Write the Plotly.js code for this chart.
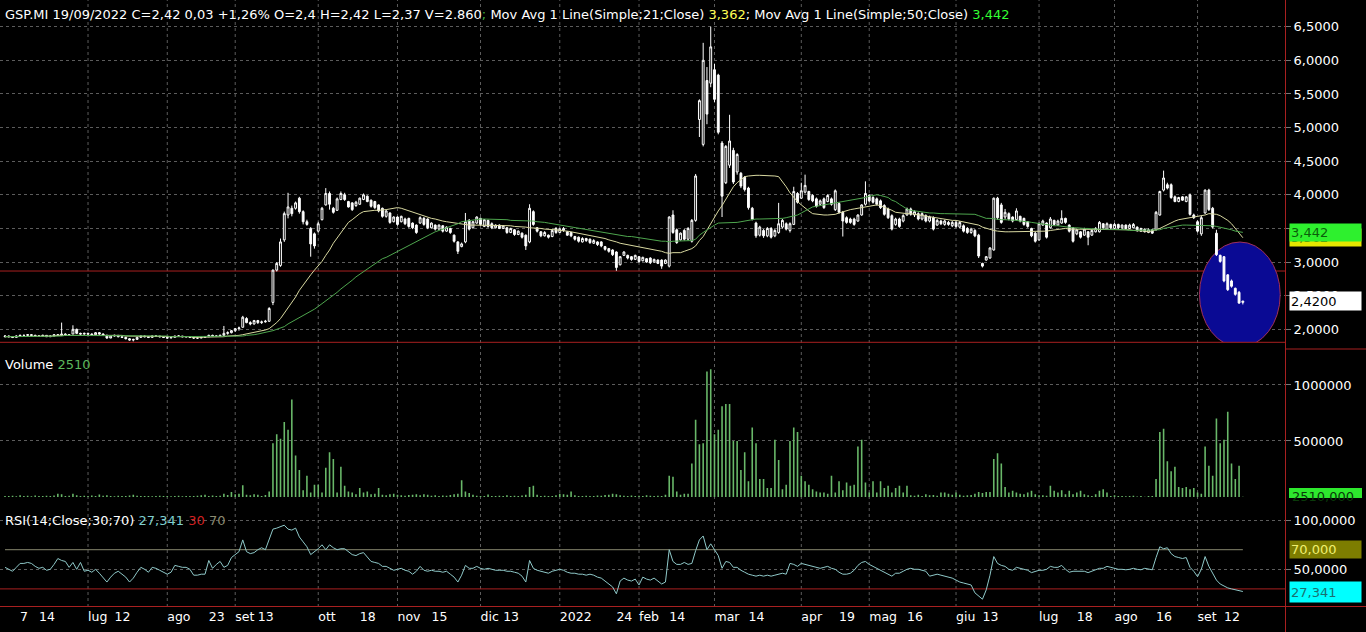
<!DOCTYPE html>
<html><head><meta charset="utf-8">
<script src="https://cdn.plot.ly/plotly-3.0.1.min.js"></script>
<style>html,body{margin:0;padding:0;background:#000;overflow:hidden}#chart{width:1366px;height:632px}</style>
</head><body><div id="chart"></div>
<script>
// ---- DATA (daily bars, GSP.MI, Jun 2021 - 19 Sep 2022) ----
const openPx = [
1.89,1.90,1.89,1.88,1.90,1.91,1.91,1.92,1.91,1.90,
1.90,1.91,1.89,1.90,1.92,1.91,1.93,1.92,1.93,2.00,
1.94,1.93,1.94,1.93,1.92,1.95,1.93,1.91,1.87,1.90,
1.91,1.89,1.88,1.86,1.84,1.85,1.88,1.90,1.89,1.88,
1.90,1.90,1.89,1.88,1.87,1.88,1.90,1.90,1.89,1.89,
1.88,1.87,1.87,1.88,1.89,1.91,1.90,1.90,1.91,1.94,
1.95,1.98,2.01,2.03,2.16,2.10,2.08,2.13,2.10,2.11,
2.12,2.40,2.88,2.95,3.33,3.70,3.80,3.80,3.95,3.75,
3.60,3.50,3.42,3.46,3.63,3.85,4.02,3.80,3.77,3.93,
4.00,3.90,3.88,3.84,3.86,3.93,3.98,3.92,3.90,3.85,
3.80,3.68,3.73,3.60,3.67,3.60,3.64,3.65,3.58,3.55,
3.58,3.65,3.64,3.51,3.55,3.49,3.54,3.46,3.50,3.40,
3.30,3.23,3.30,3.62,3.51,3.58,3.65,3.53,3.62,3.57,
3.51,3.55,3.50,3.51,3.44,3.48,3.41,3.43,3.40,3.30,
3.75,3.51,3.45,3.39,3.40,3.38,3.50,3.44,3.47,3.45,
3.44,3.38,3.37,3.30,3.35,3.34,3.28,3.30,3.30,3.23,
3.20,3.18,3.15,2.96,3.10,3.10,3.08,3.04,3.08,3.02,
3.05,3.06,3.00,3.03,3.03,2.98,2.94,3.70,3.48,3.33,
3.47,3.34,3.31,3.62,5.12,4.75,5.70,5.66,5.86,5.78,
4.77,4.18,4.44,4.66,4.34,4.32,4.26,4.10,3.80,3.58,
3.40,3.47,3.39,3.50,3.39,3.44,3.52,3.57,3.47,3.56,
4.02,3.95,4.04,4.05,3.99,3.94,3.86,3.94,3.90,3.94,
3.78,3.87,3.74,3.66,3.64,3.64,3.61,3.70,3.86,3.99,
3.96,3.94,3.91,3.84,3.79,3.69,3.56,3.64,3.61,3.70,
3.79,3.70,3.72,3.64,3.69,3.61,3.66,3.55,3.61,3.56,
3.59,3.54,3.59,3.52,3.54,3.50,3.44,3.47,3.40,2.98,
3.03,3.06,3.18,3.95,3.85,3.67,3.72,3.67,3.63,3.68,
3.65,3.60,3.50,3.43,3.33,3.55,3.58,3.51,3.62,3.55,
3.58,3.65,3.55,3.51,3.42,3.45,3.40,3.45,3.40,3.45,
3.45,3.57,3.49,3.56,3.50,3.56,3.51,3.55,3.50,3.51,
3.52,3.50,3.49,3.44,3.48,3.48,3.70,4.07,4.15,4.15,
3.97,3.90,3.97,3.90,4.00,3.70,3.60,3.42,3.73,4.07,
3.80,3.43,3.10,3.08,2.81,2.72,2.61,2.55,2.40];
const highPx = [
1.91,1.91,1.90,1.91,1.92,1.92,1.93,1.93,1.92,1.91,
1.92,1.91,1.91,1.92,1.93,2.10,1.94,1.93,2.06,2.01,
1.95,1.95,1.95,1.94,1.96,1.96,1.94,1.92,1.91,1.92,
1.91,1.90,1.89,1.87,1.86,1.89,1.91,1.91,1.90,1.91,
1.91,1.90,1.89,1.89,1.89,1.90,1.91,1.90,1.90,1.89,
1.88,1.88,1.89,1.90,1.92,1.92,1.91,1.92,2.05,1.97,
1.99,2.02,2.04,2.20,2.18,2.12,2.14,2.14,2.13,2.14,
2.33,2.89,3.00,3.35,3.75,4.03,3.84,3.90,3.97,3.77,
3.63,3.52,3.44,3.60,3.82,4.10,4.05,3.82,3.96,4.05,
4.03,3.91,3.89,3.91,3.96,4.02,3.99,3.93,3.91,3.86,
3.81,3.78,3.74,3.68,3.68,3.69,3.66,3.66,3.59,3.56,
3.68,3.67,3.65,3.59,3.56,3.56,3.55,3.53,3.51,3.41,
3.31,3.29,3.73,3.64,3.61,3.68,3.66,3.64,3.63,3.59,
3.56,3.56,3.55,3.52,3.51,3.49,3.47,3.44,3.41,3.86,
3.77,3.52,3.46,3.46,3.41,3.49,3.52,3.51,3.52,3.46,
3.45,3.39,3.38,3.37,3.36,3.35,3.34,3.31,3.31,3.24,
3.21,3.19,3.16,3.09,3.16,3.11,3.09,3.11,3.09,3.08,
3.06,3.07,3.05,3.04,3.04,3.04,3.68,3.77,3.50,3.44,
3.49,3.52,3.64,4.31,5.42,6.26,5.90,6.50,5.95,5.80,
4.80,4.74,5.19,4.70,4.62,4.34,4.28,4.12,3.82,3.60,
3.54,3.49,3.52,3.52,3.49,3.88,3.64,3.59,3.59,4.12,
4.04,4.18,4.30,4.06,4.01,3.96,3.93,3.96,4.01,3.96,
4.08,3.89,3.76,3.68,3.66,3.66,3.71,3.86,4.20,4.01,
3.98,3.96,3.93,3.86,3.81,3.71,3.66,3.66,3.71,3.81,
3.81,3.77,3.74,3.74,3.71,3.69,3.68,3.64,3.63,3.63,
3.61,3.61,3.61,3.61,3.56,3.52,3.51,3.49,3.42,2.99,
3.09,3.22,3.96,3.97,3.88,3.79,3.74,3.68,3.80,3.69,
3.66,3.61,3.51,3.45,3.59,3.63,3.59,3.67,3.63,3.63,
3.77,3.66,3.56,3.52,3.49,3.46,3.51,3.46,3.49,3.52,
3.61,3.58,3.59,3.57,3.58,3.57,3.56,3.56,3.57,3.58,
3.53,3.51,3.50,3.50,3.49,3.76,4.06,4.36,4.18,4.17,
3.99,3.97,3.98,3.98,4.02,3.72,3.62,3.69,4.08,4.09,
3.82,3.48,3.11,3.09,2.82,2.74,2.62,2.57,2.42];
const lowPx = [
1.88,1.88,1.87,1.88,1.89,1.90,1.90,1.90,1.89,1.89,
1.89,1.89,1.89,1.90,1.90,1.90,1.91,1.91,1.93,1.93,
1.92,1.92,1.92,1.91,1.92,1.92,1.90,1.86,1.87,1.89,
1.88,1.87,1.85,1.83,1.82,1.85,1.88,1.88,1.87,1.88,
1.89,1.88,1.87,1.86,1.87,1.88,1.89,1.88,1.88,1.87,
1.86,1.86,1.87,1.88,1.89,1.89,1.89,1.90,1.90,1.92,
1.94,1.96,1.98,2.03,2.09,2.06,2.07,2.08,2.08,2.10,
2.11,2.36,2.86,2.93,3.30,3.65,3.68,3.78,3.72,3.56,
3.54,3.08,3.20,3.44,3.62,3.84,3.78,3.72,3.76,3.92,
3.91,3.81,3.76,3.82,3.85,3.92,3.89,3.81,3.79,3.74,
3.66,3.66,3.57,3.59,3.54,3.59,3.55,3.51,3.49,3.42,
3.57,3.54,3.49,3.50,3.47,3.48,3.44,3.45,3.42,3.29,
3.12,3.22,3.28,3.47,3.50,3.57,3.54,3.52,3.51,3.49,
3.50,3.49,3.49,3.42,3.43,3.39,3.40,3.35,3.18,3.28,
3.54,3.44,3.37,3.38,3.35,3.37,3.42,3.43,3.45,3.39,
3.37,3.32,3.29,3.29,3.30,3.27,3.27,3.24,3.22,3.17,
3.14,3.09,2.87,2.95,3.09,3.04,3.02,3.03,2.99,3.01,
2.99,2.97,2.99,2.97,2.90,2.97,2.92,3.42,3.27,3.32,
3.32,3.32,3.29,3.60,4.86,4.72,5.05,5.60,5.38,4.90,
3.67,4.16,4.40,4.16,4.30,4.10,4.05,3.78,3.62,3.36,
3.38,3.36,3.37,3.35,3.37,3.42,3.50,3.47,3.44,3.55,
3.87,3.94,4.02,3.91,3.89,3.81,3.84,3.79,3.89,3.84,
3.76,3.72,3.38,3.57,3.57,3.54,3.60,3.69,3.84,3.89,
3.87,3.84,3.79,3.69,3.64,3.47,3.54,3.51,3.59,3.69,
3.69,3.67,3.62,3.62,3.59,3.59,3.47,3.54,3.55,3.54,
3.54,3.52,3.51,3.50,3.44,3.42,3.42,3.37,3.06,2.92,
3.02,3.05,3.17,3.63,3.57,3.63,3.62,3.59,3.62,3.59,
3.54,3.51,3.37,3.29,3.32,3.54,3.35,3.50,3.54,3.54,
3.57,3.57,3.44,3.29,3.40,3.35,3.39,3.25,3.39,3.44,
3.44,3.49,3.48,3.49,3.49,3.49,3.49,3.48,3.49,3.50,
3.45,3.45,3.44,3.43,3.42,3.47,3.69,4.05,4.08,3.94,
3.89,3.89,3.91,3.89,3.69,3.64,3.44,3.39,3.72,3.76,
3.50,3.09,2.99,2.70,2.57,2.62,2.50,2.38,2.37];
const closePx = [
1.90,1.89,1.88,1.90,1.91,1.91,1.92,1.91,1.90,1.90,
1.91,1.89,1.90,1.92,1.91,1.93,1.92,1.92,2.00,1.94,
1.93,1.94,1.93,1.92,1.95,1.93,1.91,1.87,1.90,1.91,
1.89,1.88,1.86,1.84,1.85,1.88,1.90,1.89,1.88,1.90,
1.90,1.89,1.88,1.87,1.88,1.90,1.90,1.89,1.89,1.88,
1.87,1.87,1.88,1.89,1.91,1.90,1.90,1.91,1.94,1.95,
1.98,2.01,2.02,2.18,2.10,2.08,2.13,2.10,2.11,2.12,
2.31,2.88,2.98,3.30,3.72,3.82,3.72,3.88,3.75,3.60,
3.56,3.27,3.24,3.57,3.80,4.02,3.86,3.74,3.94,4.02,
3.93,3.82,3.78,3.89,3.95,4.00,3.90,3.83,3.81,3.76,
3.68,3.76,3.59,3.67,3.56,3.68,3.57,3.53,3.51,3.44,
3.66,3.56,3.51,3.58,3.49,3.55,3.46,3.52,3.44,3.31,
3.16,3.27,3.60,3.49,3.60,3.67,3.56,3.63,3.53,3.51,
3.55,3.50,3.54,3.44,3.50,3.41,3.46,3.37,3.24,3.80,
3.56,3.46,3.39,3.44,3.37,3.47,3.44,3.49,3.50,3.40,
3.39,3.34,3.31,3.35,3.32,3.29,3.32,3.26,3.24,3.19,
3.16,3.11,2.92,3.08,3.15,3.06,3.04,3.10,3.01,3.07,
3.00,2.99,3.04,2.98,2.94,3.03,3.67,3.44,3.29,3.43,
3.34,3.50,3.62,4.28,5.40,6.00,5.20,6.20,5.42,4.93,
3.98,4.72,4.80,4.19,4.60,4.13,4.08,3.81,3.64,3.39,
3.52,3.39,3.50,3.37,3.47,3.57,3.62,3.49,3.57,4.05,
3.89,4.06,4.14,3.93,3.91,3.83,3.91,3.81,3.99,3.86,
4.06,3.74,3.61,3.59,3.59,3.56,3.70,3.85,4.02,3.91,
3.89,3.86,3.81,3.71,3.66,3.49,3.64,3.53,3.69,3.79,
3.71,3.75,3.64,3.72,3.61,3.67,3.49,3.62,3.57,3.61,
3.56,3.59,3.53,3.59,3.46,3.44,3.49,3.39,3.09,2.94,
3.08,3.21,3.95,3.66,3.59,3.74,3.64,3.61,3.76,3.61,
3.56,3.53,3.39,3.31,3.57,3.61,3.37,3.64,3.56,3.61,
3.65,3.59,3.46,3.31,3.48,3.37,3.49,3.37,3.47,3.50,
3.59,3.51,3.57,3.51,3.56,3.51,3.55,3.50,3.55,3.56,
3.47,3.46,3.45,3.48,3.43,3.74,4.05,4.25,4.10,3.96,
3.90,3.96,3.92,3.97,3.71,3.66,3.46,3.66,4.07,3.78,
3.52,3.11,3.01,2.72,2.59,2.64,2.52,2.39,2.42];
// Mov Avg (Simple;21;Close) as drawn
const ma21 = [
1.89,1.89,1.89,1.89,1.90,1.90,1.90,1.90,1.90,1.90,
1.90,1.90,1.90,1.90,1.91,1.91,1.91,1.91,1.92,1.92,
1.92,1.92,1.92,1.92,1.92,1.92,1.92,1.92,1.91,1.91,
1.91,1.91,1.90,1.90,1.90,1.90,1.90,1.89,1.89,1.89,
1.89,1.89,1.89,1.89,1.89,1.89,1.89,1.89,1.89,1.89,
1.88,1.88,1.88,1.89,1.89,1.89,1.89,1.89,1.89,1.90,
1.90,1.91,1.91,1.92,1.93,1.94,1.95,1.97,1.98,1.99,
2.01,2.05,2.10,2.16,2.24,2.32,2.40,2.48,2.58,2.66,
2.74,2.81,2.88,2.94,3.01,3.10,3.18,3.28,3.36,3.44,
3.52,3.59,3.63,3.68,3.72,3.75,3.76,3.77,3.77,3.77,
3.77,3.78,3.79,3.80,3.81,3.80,3.78,3.77,3.75,3.72,
3.71,3.69,3.67,3.65,3.64,3.62,3.61,3.60,3.59,3.58,
3.57,3.56,3.56,3.55,3.55,3.55,3.55,3.55,3.55,3.55,
3.54,3.54,3.54,3.54,3.54,3.53,3.53,3.52,3.52,3.51,
3.51,3.50,3.50,3.49,3.49,3.48,3.48,3.47,3.47,3.46,
3.45,3.44,3.43,3.42,3.41,3.40,3.39,3.38,3.36,3.35,
3.33,3.32,3.30,3.28,3.27,3.26,3.24,3.23,3.22,3.21,
3.20,3.19,3.18,3.17,3.16,3.14,3.13,3.14,3.14,3.14,
3.16,3.18,3.20,3.24,3.32,3.38,3.48,3.58,3.67,3.76,
3.84,3.93,4.03,4.12,4.18,4.22,4.27,4.28,4.29,4.29,
4.29,4.29,4.29,4.28,4.28,4.27,4.20,4.12,4.03,3.96,
3.90,3.85,3.80,3.76,3.72,3.71,3.70,3.70,3.70,3.70,
3.71,3.73,3.75,3.77,3.78,3.79,3.80,3.82,3.83,3.84,
3.85,3.85,3.84,3.82,3.80,3.77,3.74,3.73,3.72,3.72,
3.72,3.71,3.70,3.69,3.68,3.67,3.66,3.65,3.64,3.64,
3.63,3.62,3.62,3.61,3.60,3.59,3.58,3.57,3.55,3.52,
3.50,3.48,3.47,3.46,3.45,3.45,3.45,3.45,3.45,3.45,
3.45,3.45,3.45,3.45,3.45,3.45,3.46,3.47,3.48,3.49,
3.50,3.50,3.49,3.49,3.48,3.48,3.48,3.48,3.48,3.48,
3.48,3.48,3.48,3.48,3.48,3.48,3.48,3.48,3.48,3.47,
3.47,3.46,3.46,3.45,3.46,3.48,3.50,3.53,3.56,3.58,
3.61,3.63,3.64,3.65,3.66,3.66,3.67,3.68,3.70,3.72,
3.72,3.71,3.69,3.66,3.62,3.57,3.50,3.43,3.362];
// Mov Avg (Simple;50;Close) as drawn
const ma50 = [
1.89,1.89,1.89,1.89,1.89,1.89,1.89,1.90,1.90,1.90,
1.90,1.90,1.90,1.90,1.90,1.90,1.91,1.91,1.91,1.91,
1.91,1.91,1.91,1.91,1.91,1.91,1.91,1.91,1.90,1.90,
1.90,1.90,1.90,1.90,1.90,1.90,1.90,1.90,1.90,1.90,
1.90,1.90,1.90,1.90,1.89,1.89,1.89,1.89,1.89,1.89,
1.89,1.89,1.89,1.89,1.89,1.89,1.89,1.89,1.89,1.89,
1.89,1.89,1.90,1.90,1.91,1.91,1.92,1.93,1.94,1.95,
1.96,1.98,2.00,2.02,2.04,2.08,2.11,2.14,2.18,2.21,
2.24,2.27,2.30,2.34,2.38,2.42,2.46,2.50,2.55,2.60,
2.64,2.69,2.73,2.78,2.82,2.86,2.89,2.93,2.97,3.01,
3.05,3.07,3.10,3.12,3.15,3.18,3.21,3.24,3.27,3.30,
3.33,3.36,3.40,3.43,3.45,3.47,3.49,3.51,3.52,3.55,
3.57,3.60,3.61,3.62,3.63,3.64,3.64,3.64,3.64,3.64,
3.63,3.63,3.63,3.63,3.62,3.62,3.62,3.61,3.61,3.61,
3.61,3.60,3.60,3.59,3.58,3.57,3.56,3.55,3.54,3.53,
3.52,3.51,3.50,3.49,3.48,3.47,3.46,3.45,3.44,3.43,
3.42,3.42,3.41,3.40,3.39,3.38,3.38,3.37,3.36,3.35,
3.34,3.34,3.33,3.32,3.31,3.31,3.30,3.31,3.31,3.31,
3.31,3.31,3.32,3.34,3.40,3.44,3.48,3.52,3.55,3.58,
3.58,3.58,3.58,3.58,3.59,3.60,3.61,3.63,3.64,3.64,
3.64,3.64,3.64,3.65,3.65,3.65,3.65,3.66,3.67,3.69,
3.70,3.73,3.76,3.79,3.82,3.83,3.84,3.85,3.86,3.87,
3.88,3.89,3.89,3.90,3.91,3.92,3.93,3.95,3.96,3.98,
3.99,4.00,3.99,3.98,3.96,3.92,3.90,3.86,3.82,3.79,
3.77,3.76,3.75,3.74,3.74,3.73,3.73,3.72,3.72,3.72,
3.72,3.72,3.72,3.72,3.72,3.72,3.72,3.71,3.69,3.67,
3.65,3.65,3.64,3.64,3.63,3.63,3.63,3.62,3.62,3.61,
3.61,3.60,3.59,3.58,3.57,3.56,3.55,3.55,3.54,3.54,
3.53,3.52,3.52,3.51,3.51,3.50,3.50,3.50,3.49,3.49,
3.49,3.49,3.48,3.48,3.48,3.48,3.48,3.48,3.47,3.47,
3.47,3.47,3.47,3.47,3.47,3.48,3.48,3.50,3.51,3.52,
3.54,3.55,3.55,3.55,3.55,3.55,3.55,3.55,3.55,3.55,
3.54,3.53,3.52,3.50,3.49,3.48,3.46,3.45,3.442];
// Volume, thousands of shares
const volumeK = [
10,8,12,6,15,9,11,7,13,10,
8,12,9,14,30,25,10,12,28,15,
9,11,8,13,10,22,12,15,9,7,
11,8,10,14,20,12,9,8,10,7,
9,12,8,10,6,9,11,7,10,8,
9,12,15,20,10,14,9,12,30,18,
45,25,30,105,20,15,25,20,10,18,
50,480,560,520,670,600,870,370,240,60,
190,40,110,110,40,260,400,340,40,270,
100,50,40,25,80,40,50,25,30,80,
20,15,25,30,20,15,12,18,20,25,
15,25,20,12,15,10,14,12,18,25,
30,150,50,35,20,12,10,8,22,10,
9,12,8,15,10,12,9,14,20,90,
100,20,10,12,8,10,15,30,25,20,
50,15,10,8,12,10,9,14,11,18,
20,30,25,15,12,10,14,9,12,10,
15,11,8,12,10,20,190,180,50,20,
30,30,300,690,470,480,1120,1140,560,600,
810,830,830,500,500,240,400,140,620,480,
160,160,80,80,510,330,70,110,500,620,
580,190,140,110,70,50,40,40,30,190,
40,140,60,130,100,110,450,510,130,40,
140,40,140,80,100,40,80,100,40,100,
15,12,20,10,25,15,18,12,40,40,
30,20,40,20,12,15,18,30,45,35,
45,45,340,390,300,90,40,55,40,30,
25,40,55,25,15,15,12,100,55,40,
60,25,55,25,40,55,25,15,10,25,
55,70,40,10,15,8,10,6,9,12,
5,8,3,10,8,160,580,610,320,230,
270,90,80,90,70,80,40,30,450,280,
190,700,480,510,760,300,160,280,2.51];
// RSI(14;Close) as drawn
const rsi = [
52,50,48,52,56,56,57,56,53,51,
52,49,50,55,61,59,58,52,57,50,
57,48,49,47,50,46,42,37,42,46,
48,45,42,37,41,47,52,50,47,52,
51,49,47,45,47,54,53,52,52,50,
44,44,45,45,59,51,55,58,52,54,
62,65,68,80,68,66,67,70,72,70,
80,91,92,93.5,95,91,90,92,83,78,
73,65,68,71,75,70,75,72,70,71,
71,68,65,64,66,67,62,58,57,56,
53,53,51,49,50,51,49,48,45,48,
53,49,48,49,48,48,47,48,45,42,
37,44,54,51,51,53,51,50,51,50,
49,49,49,48,48,47,46,43,37,59,
51,49,48,47,46,48,49,50,49,47,
46,46,45,45,44,45,44,42,41,38,
35,32,25,38,41,39,38,40,34,42,
40,39,41,38,35,37,70,58,55,55,
57,55,56,69,80,84,70,76,70,64,
51,58,57,52,52,49,47,45,44,43,
44,43,44,43,44,45,46,45,56,55,
53,56,55,54,53,52,51,52,53,51,
50,47,45,45,46,49,54,57,58,55,
53,51,49,47,45,43,46,46,48,50,
51,50,50,49,48,43,44,45,44,43,
42,41,39,37,36,35,34,26,23,19.5,
29,44,63,56,54,53,50,49,52,51,
50,49,46.6,47.6,49,49,50,53,52,52,
54,50,47,48,48,48.6,48,46.6,48,49,
51,51,53,52,51,50,50,49.5,50,51,
50,49.5,51,50,49.5,62,73,71,72,66,
63,62,61,62,52,48,42.5,50,63,53,
46,39,35,33,31,30,29,28,27.341];
// x-axis labels (bar index of each labelled day) and month starts
const tickIdx  = [4,9,22,29,43,54,61,67,83,94,104,113,126,132,147,162,168,176,188,197,211,221,229,239,252,259,274,284,294,305,316,323];
const tickText = ['7','14','lug','12','ago','23','set','13','ott','18','nov','15','dic','13','2022','24','feb','14','mar','14','apr','19','mag','16','giu','13','lug','18','ago','16','set','12'];
const monthStartIdx = [22,43,61,83,104,126,147,168,188,211,229,252,274,294,316];
// levels
const priceLevel = 2.867;
const rsiHigh = 70, rsiLow = 30;
const lastClose = 2.42, lastMA21 = 3.362, lastMA50 = 3.442, lastVol = 2510, lastRSI = 27.341;

// ---- BUILD ----
const idx = closePx.map((_, i) => i);
const N = closePx.length;
const W = 1285, H = 607;           // plot area in px
const py = y => 1 - y / H;         // pixel row -> paper y
const px = x => x / W;             // pixel column -> paper x
const RED = '#a82020', GRID = '#5c5c5c';

const traces = [
  {type:'candlestick', x:idx, open:openPx, high:highPx, low:lowPx, close:closePx,
   xaxis:'x', yaxis:'y', whiskerwidth:0, hoverinfo:'skip',
   increasing:{line:{color:'#ffffff', width:1}, fillcolor:'#000000'},
   decreasing:{line:{color:'#ffffff', width:1}, fillcolor:'#ffffff'}},
  {type:'scatter', mode:'lines', x:idx, y:ma21, xaxis:'x', yaxis:'y',
   line:{color:'#d8d8a0', width:1}, hoverinfo:'skip'},
  {type:'scatter', mode:'lines', x:idx, y:ma50, xaxis:'x', yaxis:'y',
   line:{color:'#4ea64e', width:1}, hoverinfo:'skip'},
  {type:'bar', x:idx, y:volumeK.map(v => v * 1000), xaxis:'x', yaxis:'y2',
   marker:{color:'#69b869', line:{width:0}}, width:0.42, hoverinfo:'skip'},
  {type:'scatter', mode:'lines', x:idx, y:rsi, xaxis:'x', yaxis:'y3',
   line:{color:'#8fc9c9', width:1}, hoverinfo:'skip'}
];

const tickfont = {color:'#ffffff', size:13, family:'DejaVu Sans'};
const yBase = {side:'right', anchor:'x', showline:false, zeroline:false, fixedrange:true,
  gridcolor:GRID, griddash:'dot', gridwidth:1, ticks:'outside', ticklen:5, tickcolor:'#777777',
  tickfont:tickfont};

const shapes = [];
monthStartIdx.forEach(m => shapes.push({type:'line', xref:'x', yref:'paper', x0:m, x1:m, y0:0, y1:1,
  line:{color:GRID, width:1, dash:'dot'}, layer:'below'}));
shapes.push({type:'circle', xref:'x', yref:'y', x0:316.5, x1:337.9, y0:1.737, y1:3.298,
  fillcolor:'#0a0a94', line:{color:'#a0305a', width:1}, layer:'between'});
shapes.push({type:'line', xref:'paper', yref:'y', x0:0, x1:1, y0:priceLevel, y1:priceLevel,
  line:{color:RED, width:1}, layer:'between'});
shapes.push({type:'line', xref:'x', yref:'y3', x0:0, x1:N - 1, y0:rsiHigh, y1:rsiHigh,
  line:{color:'#6c6c58', width:1.2}, layer:'between'});
shapes.push({type:'line', xref:'paper', yref:'y3', x0:0, x1:1, y0:rsiLow, y1:rsiLow,
  line:{color:RED, width:1}, layer:'between'});
// panel separator and frame
shapes.push({type:'line', xref:'paper', yref:'paper', x0:0, x1:1, y0:py(342.3), y1:py(342.3), line:{color:RED, width:1}});
shapes.push({type:'line', xref:'paper', yref:'paper', x0:0, x1:px(1366), y0:py(606.5), y1:py(606.5), line:{color:RED, width:1}});
shapes.push({type:'line', xref:'paper', yref:'paper', x0:px(1285.5), x1:px(1285.5), y0:py(632), y1:1, line:{color:RED, width:1}});
shapes.push({type:'line', xref:'paper', yref:'paper', x0:px(1285.5), x1:px(1366), y0:py(349), y1:py(349), line:{color:RED, width:1}});
// green volume tag (cut by the RSI panel)
shapes.push({type:'rect', xref:'paper', yref:'paper', x0:px(1289), x1:px(1362), y0:py(498), y1:py(488), fillcolor:'#2ee82e', line:{width:0}});

const hdrFont = {color:'#ffffff', size:13, family:'DejaVu Sans'};
const tag = (yref, y, text, bg, fg, h) => ({xref:'paper', yref:yref, x:px(1289), y:y, xanchor:'left', yanchor:'middle',
  text:text, showarrow:false, bgcolor:bg, width:69, height:h, align:'left', borderpad:1,
  font:{color:fg, size:13, family:'DejaVu Sans'}});
const fmt = (v, d) => v.toFixed(d).replace('.', ',');

const annotations = [
  {xref:'paper', yref:'paper', x:px(3), y:py(14), xanchor:'left', yanchor:'middle', showarrow:false, font:hdrFont,
   text:'GSP.MI 19/09/2022 C=2,42 0,03 +1,26% O=2,4 H=2,42 L=2,37 V=2.860<span style="color:#3fae3f">;</span> Mov Avg 1 Line(Simple;21;Close) <span style="color:#ffff55">' + fmt(lastMA21,3) + '</span>; Mov Avg 1 Line(Simple;50;Close) <span style="color:#33ff33">' + fmt(lastMA50,3) + '</span>'},
  {xref:'paper', yref:'paper', x:px(3), y:py(364), xanchor:'left', yanchor:'middle', showarrow:false, font:hdrFont,
   text:'Volume <span style="color:#5cb85c">' + lastVol + '</span>'},
  {xref:'paper', yref:'paper', x:px(3), y:py(520), xanchor:'left', yanchor:'middle', showarrow:false, font:hdrFont,
   text:'RSI(14;Close;30;70) <span style="color:#7fcfcf">' + fmt(lastRSI,3) + '</span> <span style="color:#d02020">30</span> <span style="color:#8a8a70">70</span>'},
  tag('y', lastMA21, fmt(lastMA21,3), '#e6e600', '#6a6a00', 15),
  tag('y', lastMA50, fmt(lastMA50,3), '#2ef02e', '#0b5e0b', 15),
  tag('y', lastClose, fmt(lastClose,4), '#ffffff', '#000000', 16),
  tag('y3', rsiHigh, '70,000', '#7d7d00', '#f0f070', 15),
  tag('y3', lastRSI, fmt(lastRSI,3), '#00ffff', '#1a7070', 18),
  {xref:'paper', yref:'paper', x:px(1290), y:py(496), xanchor:'left', yanchor:'middle', showarrow:false,
   text:'2510,000', font:{color:'#0a3a0a', size:13, family:'DejaVu Sans'}}
];

const layout = {
  width:1366, height:632, margin:{l:0, r:81, t:0, b:25, pad:0},
  paper_bgcolor:'#000000', plot_bgcolor:'#000000', showlegend:false, hovermode:false,
  separators:',.', font:{family:'DejaVu Sans', color:'#ffffff'},
  xaxis:{domain:[0,1], anchor:'y3', range:[-1.325, 339.17], fixedrange:true,
    tickmode:'array', tickvals:tickIdx, ticktext:tickText, ticks:'', tickangle:0,
    ticklabelposition:'outside right', tickfont:{color:'#ffffff', size:12.5, family:'DejaVu Sans'},
    showgrid:false, zeroline:false, showline:false, rangeslider:{visible:false}},
  yaxis:Object.assign({}, yBase, {domain:[py(342.3), 1], range:[1.807, 6.897], tick0:0, dtick:0.5, tickformat:'.4f'}),
  yaxis2:Object.assign({}, yBase, {domain:[py(497), py(342.3)], range:[0, 1381000], tickmode:'array', tickvals:[500000, 1000000], tickformat:'d'}),
  yaxis3:Object.assign({}, yBase, {domain:[0, py(497)], range:[11.53, 123.77], tickmode:'array', tickvals:[50, 100], tickformat:'.4f'}),
  shapes:shapes, annotations:annotations
};

Plotly.newPlot('chart', traces, layout, {staticPlot:true, displayModeBar:false});
</script></body></html>
